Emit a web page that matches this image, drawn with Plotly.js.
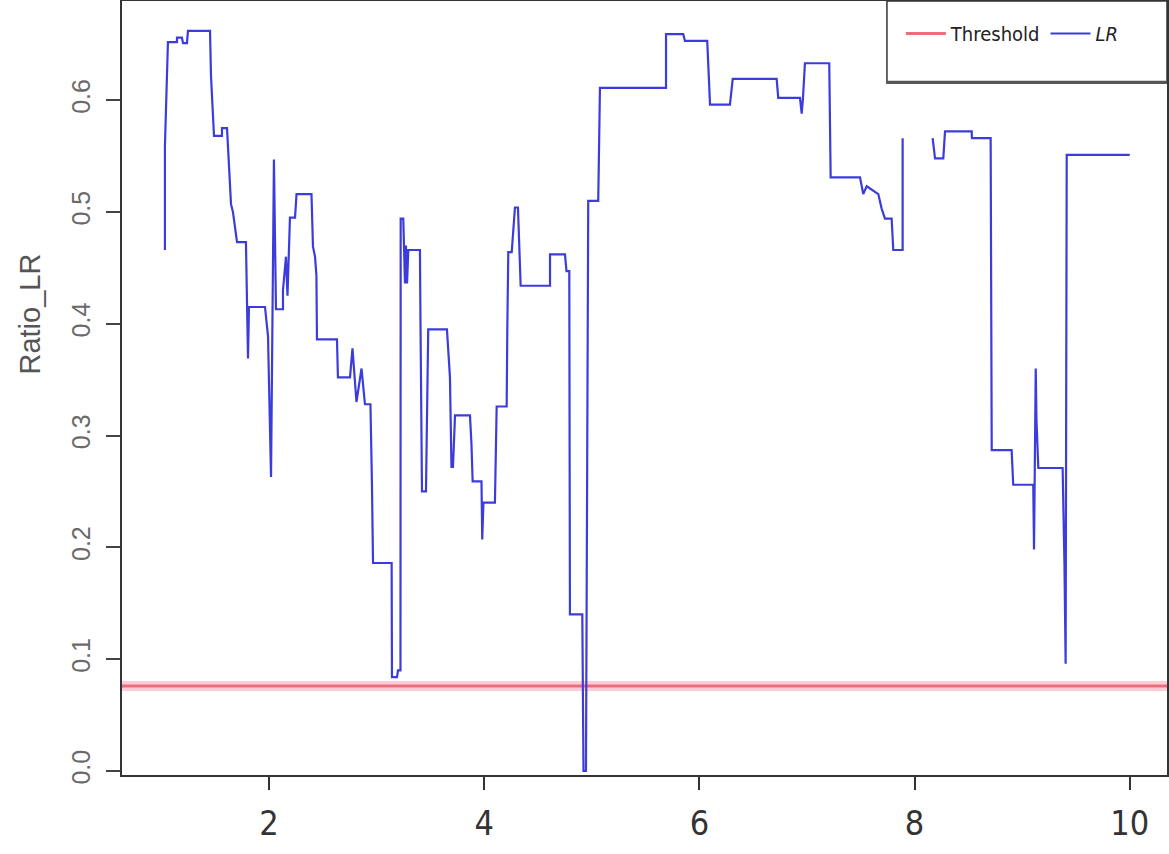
<!DOCTYPE html>
<html>
<head>
<meta charset="utf-8">
<script src="https://cdn.plot.ly/plotly-3.0.1.min.js"></script>
<style>
  html, body { margin: 0; padding: 0; background: #ffffff; }
  #chart { width: 1169px; height: 854px; }
</style>
</head>
<body>
<div id="chart"></div>
<script>
// ---- Data ----
const lrX = [
  1.033, 1.033, 1.061, 1.145, 1.145, 1.191, 1.201, 1.238, 1.247, 1.452,
  1.461, 1.489, 1.489, 1.563, 1.563, 1.610, 1.628, 1.647, 1.665, 1.700,
  1.703, 1.786, 1.796, 1.805, 1.814, 1.963, 1.991, 2.019, 2.046, 2.065,
  2.130, 2.130, 2.158, 2.172, 2.195, 2.242, 2.256, 2.395, 2.409, 2.428,
  2.441, 2.446, 2.632, 2.641, 2.753, 2.776, 2.813, 2.860, 2.892, 2.943,
  2.957, 2.967, 3.140, 3.143, 3.190, 3.199, 3.222, 3.224, 3.248, 3.264,
  3.273, 3.283, 3.295, 3.403, 3.408, 3.422, 3.459, 3.466, 3.480, 3.654,
  3.664, 3.682, 3.696, 3.710, 3.729, 3.868, 3.882, 3.893, 3.975, 3.982,
  3.993, 4.100, 4.116, 4.209, 4.215, 4.224, 4.256, 4.277, 4.286, 4.314,
  4.323, 4.339, 4.612, 4.612, 4.751, 4.765, 4.791, 4.793, 4.797, 4.912,
  4.923, 4.946, 4.955, 4.967, 5.060, 5.067, 5.076, 5.690, 5.690, 5.850,
  5.866, 6.073, 6.099, 6.284, 6.298, 6.310, 6.718, 6.733, 6.935, 6.951,
  6.963, 6.981, 7.207, 7.214, 7.220, 7.493, 7.523, 7.555, 7.601, 7.663,
  7.694, 7.725, 7.787, 7.802, 7.889, 7.889, null,
  8.168, 8.190, 8.267, 8.283, 8.531, 8.533, 8.707, 8.710, 8.717, 8.902,
  8.917, 9.103, 9.110, 9.126, 9.133, 9.150, 9.376, 9.393, 9.404, 9.414,
  10.000
];
const lrY = [
  0.466, 0.559, 0.652, 0.652, 0.656, 0.656, 0.651, 0.651, 0.662, 0.662,
  0.622, 0.572, 0.568, 0.568, 0.575, 0.575, 0.541, 0.507, 0.500, 0.477,
  0.473, 0.473, 0.415, 0.369, 0.415, 0.415, 0.389, 0.263, 0.547, 0.413,
  0.413, 0.430, 0.460, 0.425, 0.495, 0.495, 0.516, 0.516, 0.469, 0.460,
  0.443, 0.386, 0.386, 0.352, 0.352, 0.378, 0.330, 0.360, 0.328, 0.328,
  0.257, 0.186, 0.186, 0.084, 0.084, 0.090, 0.090, 0.494, 0.494, 0.436,
  0.470, 0.436, 0.466, 0.466, 0.402, 0.250, 0.250, 0.317, 0.395, 0.395,
  0.378, 0.352, 0.272, 0.272, 0.318, 0.318, 0.292, 0.259, 0.259, 0.207,
  0.240, 0.240, 0.326, 0.326, 0.395, 0.464, 0.464, 0.490, 0.504, 0.504,
  0.475, 0.434, 0.434, 0.462, 0.462, 0.447, 0.447, 0.292, 0.140, 0.140,
  0.000, 0.000, 0.257, 0.510, 0.510, 0.559, 0.611, 0.611, 0.659, 0.659,
  0.653, 0.653, 0.596, 0.596, 0.611, 0.619, 0.619, 0.602, 0.602, 0.588,
  0.602, 0.633, 0.633, 0.581, 0.531, 0.531, 0.516, 0.523, 0.520, 0.516,
  0.503, 0.494, 0.494, 0.466, 0.466, 0.566, null,
  0.566, 0.548, 0.548, 0.572, 0.572, 0.566, 0.566, 0.428, 0.287, 0.287,
  0.256, 0.256, 0.198, 0.360, 0.314, 0.271, 0.271, 0.185, 0.096, 0.551,
  0.551
];
const thresholdValue = 0.076;
const xRange = [0.634, 10.346];
const yRange = [-0.0036, 0.6887];
const xTickVals = [2, 4, 6, 8, 10];
const yTickVals = [0.0, 0.1, 0.2, 0.3, 0.4, 0.5, 0.6];
const seriesNames = ["Threshold", "<i>LR</i>"];
const yTitle = "Ratio_LR";

// ---- Traces ----
const thresholdHalo = {
  x: xRange, y: [thresholdValue, thresholdValue],
  type: "scatter", mode: "lines", showlegend: false, hoverinfo: "skip",
  line: { color: "rgba(255,160,180,0.55)", width: 10 }
};
const thresholdTrace = {
  x: xRange, y: [thresholdValue, thresholdValue],
  type: "scatter", mode: "lines", name: seriesNames[0],
  line: { color: "#e8707c", width: 3 }
};
const lrTrace = {
  x: lrX, y: lrY, type: "scatter", mode: "lines", name: seriesNames[1],
  connectgaps: false,
  line: { color: "#3c3cdc", width: 2.2 }
};

const narrow = "'DejaVu Sans Condensed', 'Liberation Sans Narrow', 'Liberation Sans', Arial, sans-serif";

const layout = {
  width: 1169, height: 854,
  margin: { l: 122, r: 2, t: 1, b: 79, pad: 0 },
  paper_bgcolor: "#ffffff", plot_bgcolor: "#ffffff",
  showlegend: true,
  legend: {
    orientation: "h", x: 0.852, y: 0.958, xanchor: "center", yanchor: "middle",
    bgcolor: "rgba(0,0,0,0)", borderwidth: 0,
    font: { family: narrow, size: 20, color: "#222" },
    itemwidth: 40, traceorder: "normal"
  },
  xaxis: {
    range: xRange, tickvals: xTickVals, ticktext: xTickVals.map(String),
    ticks: "outside", ticklen: 13, tickwidth: 2, tickcolor: "#333",
    showgrid: false, zeroline: false,
    showline: true, mirror: true, linecolor: "#333", linewidth: 2,
    tickfont: { family: narrow, size: 34, color: "#333" },
    ticklabelstandoff: 4
  },
  yaxis: {
    range: yRange, tickvals: yTickVals, tickformat: ".1f",
    ticks: "outside", ticklen: 14, tickwidth: 2, tickcolor: "#444",
    showgrid: false, zeroline: false,
    showline: true, mirror: true, linecolor: "#333", linewidth: 2,
    tickangle: -90,
    tickfont: { family: "'Liberation Sans', Arial, sans-serif", size: 25, color: "#6a6a6a" },
    ticklabelstandoff: 6
  },
  shapes: [
    { type: "rect", xref: "paper", yref: "paper",
      x0: 0.732, x1: 1.0, y0: 0.894, y1: 1.0,
      line: { color: "#333", width: 1.5 }, fillcolor: "#ffffff", layer: "below" },
    { type: "line", xref: "paper", yref: "paper",
      x0: 0.732, x1: 1.0, y0: 0.895, y1: 0.895,
      line: { color: "#555", width: 3 }, layer: "below" }
  ],
  annotations: [
    { text: yTitle, xref: "paper", yref: "paper", x: -0.088, y: 0.595,
      xanchor: "center", yanchor: "middle", textangle: -90, showarrow: false,
      font: { family: "'Liberation Sans', Arial, sans-serif", size: 29, color: "#555" } }
  ]
};

Plotly.newPlot("chart", [thresholdHalo, thresholdTrace, lrTrace], layout, { displayModeBar: false, staticPlot: true });
</script>
</body>
</html>
